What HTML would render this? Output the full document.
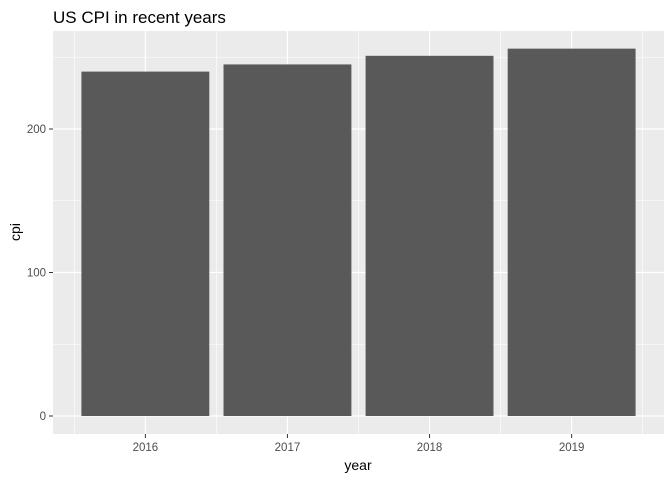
<!DOCTYPE html>
<html><head><meta charset="utf-8"><style>
body{margin:0;background:#fff;font-family:"Liberation Sans",Arial,sans-serif}
</style></head><body>
<svg id="chart" width="672" height="480" xmlns="http://www.w3.org/2000/svg">
<text x="53" y="23" font-size="17" fill="#000">US CPI in recent years</text>
<rect x="53" y="31" width="611" height="403" fill="#ebebeb"/>
<g id="grid"></g><g id="bars"></g><g id="axes"></g>
<text x="358" y="470" font-size="14" text-anchor="middle" fill="#000">year</text>
<text transform="translate(20,232) rotate(-90)" font-size="14" text-anchor="middle" fill="#000">cpi</text>
</svg>
<script>
const categories=["2016","2017","2018","2019"];
const cpi=[240,245,251,256];
const yTicks=[0,100,200];
const yMinor=[50,150,250];
const NS="http://www.w3.org/2000/svg";
const px0=53,px1=664,py0=31,py1=434;
const step=(px1-px0)/(categories.length+0.3);
function x(i){return px0+step*(0.65+i);}
function y(v){return 416-v*1.435;}
function mk(t,a,p){const e=document.createElementNS(NS,t);for(const k in a)e.setAttribute(k,a[k]);document.getElementById(p).appendChild(e);return e;}
yMinor.forEach(v=>{const l=mk('line',{x1:px0,x2:px1,y1:y(v),y2:y(v),stroke:'#fff','stroke-width':0.6},'grid');

});
for(let i=0;i<=categories.length;i++){const xv=x(i-0.5);if(xv<px0||xv>px1)continue;const l=mk('line',{x1:xv,x2:xv,y1:py0,y2:py1,stroke:'#fff','stroke-width':0.6},'grid');

}
yTicks.forEach(v=>{const l=mk('line',{x1:px0,x2:px1,y1:y(v),y2:y(v),stroke:'#fff','stroke-width':1.2},'grid');


const t=mk('line',{x1:px0-4,x2:px0,y1:y(v),y2:y(v),stroke:'#333','stroke-width':1},'axes');


const tx=mk('text',{x:px0-7,y:y(v)+4,'font-size':11.5,'text-anchor':'end',fill:'#4d4d4d'},'axes');tx.textContent=v;

});
categories.forEach((c,i)=>{const l=mk('line',{x1:x(i),x2:x(i),y1:py0,y2:py1,stroke:'#fff','stroke-width':1.2},'grid');


const bw=step*0.9;
const b=mk('rect',{x:x(i)-bw/2,y:y(cpi[i]),width:bw,height:y(0)-y(cpi[i]),fill:'#595959'},'bars');


const t=mk('line',{x1:x(i),x2:x(i),y1:py1,y2:py1+4,stroke:'#333','stroke-width':1},'axes');


const tx=mk('text',{x:x(i),y:py1+17,'font-size':11.5,'text-anchor':'middle',fill:'#4d4d4d'},'axes');tx.textContent=c;

});
</script>
</body></html>
